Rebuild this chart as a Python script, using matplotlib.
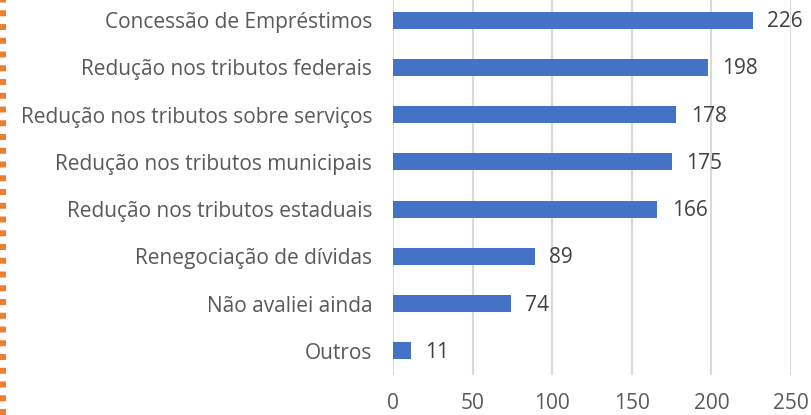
import matplotlib
matplotlib.use("Agg")
from matplotlib import pyplot as plt
from matplotlib.lines import Line2D

categories = [
    "Concessão de Empréstimos",
    "Redução nos tributos federais",
    "Redução nos tributos sobre serviços",
    "Redução nos tributos municipais",
    "Redução nos tributos estaduais",
    "Renegociação de dívidas",
    "Não avaliei ainda",
    "Outros",
]
values = [226, 198, 178, 175, 166, 89, 74, 11]
xticks = [0, 50, 100, 150, 200, 250]

plt.rcParams["font.family"] = ["Open Sans", "DejaVu Sans"]
plt.rcParams["lines.scale_dashes"] = False

fig = plt.figure(figsize=(8.11, 4.15), dpi=100)
ax = fig.add_axes([393 / 811, (415 - 374.6) / 415, 398 / 811, 378.2 / 415])

ypos = list(range(len(categories)))
ax.barh(ypos, values, height=0.36, color="#4472C4", zorder=3)
for y, v in zip(ypos, values):
    ax.text(v + 9, y + 0.03, str(v), va="center", ha="left", fontsize=15, color="#404040")

ax.set_yticks(ypos)
ax.set_yticklabels(categories, fontsize=15, color="#595959")
ax.set_ylim(len(categories) - 0.5, -0.5)
ax.set_xlim(0, 250)
ax.set_xticks(xticks)
ax.set_xticklabels([str(t) for t in xticks], fontsize=15, color="#595959")
ax.tick_params(axis="both", length=0)
ax.tick_params(axis="y", pad=15)
ax.tick_params(axis="x", pad=13)
ax.grid(axis="x", color="#D9D9D9", linewidth=1.5, zorder=0)
for s in ax.spines.values():
    s.set_visible(False)

# orange dotted border on the left
fig.add_artist(Line2D([3 / 811, 3 / 811], [0, 1], transform=fig.transFigure,
                      color="#ED7D31", linewidth=4.3, dashes=(4.3, 5.6)))

fig.savefig("out.png", dpi=100)
